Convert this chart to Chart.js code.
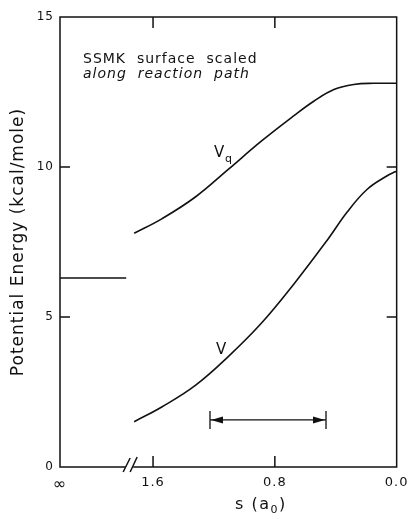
<!DOCTYPE html>
<html>
<head>
<meta charset="utf-8">
<script src="https://cdn.jsdelivr.net/npm/chart.js@4.4.1/dist/chart.umd.min.js"></script>
<style>
  html, body { margin: 0; padding: 0; background: #fff; }
  #wrap { width: 415px; height: 519px; }
</style>
</head>
<body>
<div id="wrap"><canvas id="energyChart" width="415" height="519"></canvas></div>
<script>
// reaction coordinate s (a0); the "infinity" column sits at the left edge
const sInf = 2.211;
const xTickValues = [sInf, 1.6, 0.8, 0];
const xTickLabels = ["\u221E", "1.6", "0.8", "0.0"];
const yTickValues = [0, 5, 10, 15];

// Vq curve
const vqS = [1.724, 1.540, 1.322, 1.106, 0.889, 0.672, 0.542, 0.412, 0.282, 0.150, 0.011, 0];
const vqE = [7.79, 8.28, 9.00, 9.92, 10.86, 11.72, 12.20, 12.58, 12.75, 12.79, 12.79, 12.79];

// V curve
const vS = [1.724, 1.540, 1.322, 1.106, 0.889, 0.672, 0.455, 0.325, 0.195, 0.065, 0.011, 0];
const vE = [1.51, 2.01, 2.72, 3.68, 4.79, 6.12, 7.57, 8.50, 9.25, 9.70, 9.84, 9.86];

// separated reactants (s = infinity)
const infS = [sInf, 1.776];
const infE = [6.3, 6.3];

// double arrow marking a range of s
const arrowS = [1.226, 0.464];
const arrowE = 1.57;

const FONT = "'DejaVu Sans', sans-serif";

function toPoints(xs, ys) {
  return xs.map((x, i) => ({ x: x, y: ys[i] }));
}

const extras = {
  id: "extras",
  beforeDraw(chart) {
    chart.ctx.letterSpacing = "1px";
  },
  afterDraw(chart) {
    const ctx = chart.ctx;
    const xs = chart.scales.x;
    const ys = chart.scales.y;
    const a = chart.chartArea;

    ctx.save();
    ctx.strokeStyle = "#111";
    ctx.fillStyle = "#111";
    ctx.lineWidth = 1.5;

    // frame
    ctx.strokeRect(a.left, a.top, a.right - a.left, a.bottom - a.top);

    // inward ticks
    ctx.beginPath();
    [1.6, 0.8].forEach((v) => {
      const px = xs.getPixelForValue(v);
      ctx.moveTo(px, a.top);
      ctx.lineTo(px, a.top + 11);
      ctx.moveTo(px, a.bottom);
      ctx.lineTo(px, a.bottom - 11);
    });
    [5, 10].forEach((v) => {
      const py = ys.getPixelForValue(v);
      ctx.moveTo(a.left, py);
      ctx.lineTo(a.left + 10, py);
      ctx.moveTo(a.right, py);
      ctx.lineTo(a.right - 10, py);
    });
    ctx.stroke();

    // axis break
    const bx = xs.getPixelForValue(1.77);
    ctx.fillStyle = "#fff";
    ctx.fillRect(bx - 2, a.bottom - 2, 8, 4);
    ctx.fillStyle = "#111";
    ctx.beginPath();
    ctx.moveTo(bx - 4, a.bottom + 5);
    ctx.lineTo(bx + 3, a.bottom - 9);
    ctx.moveTo(bx + 3, a.bottom + 5);
    ctx.lineTo(bx + 10, a.bottom - 10);
    ctx.stroke();

    // double arrow
    const x1 = xs.getPixelForValue(arrowS[0]);
    const x2 = xs.getPixelForValue(arrowS[1]);
    const ay = ys.getPixelForValue(arrowE);
    ctx.lineWidth = 1.3;
    ctx.beginPath();
    ctx.moveTo(x1, ay);
    ctx.lineTo(x2, ay);
    ctx.moveTo(x1, ay - 9);
    ctx.lineTo(x1, ay + 9);
    ctx.moveTo(x2, ay - 9);
    ctx.lineTo(x2, ay + 9);
    ctx.stroke();
    ctx.beginPath();
    ctx.moveTo(x1 + 1, ay);
    ctx.lineTo(x1 + 13, ay - 3.5);
    ctx.lineTo(x1 + 13, ay + 3.5);
    ctx.closePath();
    ctx.moveTo(x2 - 1, ay);
    ctx.lineTo(x2 - 13, ay - 3.5);
    ctx.lineTo(x2 - 13, ay + 3.5);
    ctx.closePath();
    ctx.fill();

    // curve labels
    ctx.letterSpacing = "0px";
    ctx.textAlign = "left";
    ctx.textBaseline = "alphabetic";
    ctx.font = "15px " + FONT;
    ctx.fillText("V", 214, 157);
    ctx.font = "11px " + FONT;
    ctx.fillText("q", 225, 162);
    ctx.font = "15px " + FONT;
    ctx.fillText("V", 216, 354);

    // note
    ctx.letterSpacing = "1px";
    ctx.font = "14px " + FONT;
    ctx.fillText("SSMK  surface  scaled", 83, 63);
    ctx.font = "italic 14px " + FONT;
    ctx.fillText("along  reaction  path", 83, 78);

    // x title with subscript
    ctx.font = "16px " + FONT;
    ctx.letterSpacing = "1.5px";
    let tx = 235;
    const ty = 509;
    ctx.fillText("s (a", tx, ty);
    tx += ctx.measureText("s (a").width;
    ctx.font = "11px " + FONT;
    ctx.fillText("0", tx, ty + 4);
    tx += ctx.measureText("0").width;
    ctx.font = "16px " + FONT;
    ctx.fillText(")", tx, ty);

    ctx.restore();
    ctx.letterSpacing = "0px";
  }
};

new Chart(document.getElementById("energyChart"), {
  type: "line",
  data: {
    datasets: [
      { label: "Vq", data: toPoints(vqS, vqE) },
      { label: "V", data: toPoints(vS, vE) },
      { label: "infinity", data: toPoints(infS, infE), tension: 0 }
    ]
  },
  options: {
    responsive: false,
    animation: false,
    devicePixelRatio: 1,
    layout: { padding: { left: 0, top: 17, right: 15, bottom: 0 } },
    elements: {
      line: { borderColor: "#111", borderWidth: 1.6, tension: 0.4, fill: false },
      point: { radius: 0 }
    },
    plugins: {
      legend: { display: false },
      tooltip: { enabled: false }
    },
    scales: {
      x: {
        type: "linear",
        reverse: true,
        min: 0,
        max: sInf,
        grid: { display: false, drawTicks: false },
        border: { display: false },
        afterBuildTicks: (scale) => {
          scale.ticks = xTickValues.map((v) => ({ value: v }));
        },
        afterFit: (scale) => { scale.height = 52; },
        ticks: {
          autoSkip: false,
          maxRotation: 0,
          padding: 8,
          color: "#111",
          font: (c) => ({ family: FONT, size: c.index === 0 ? 16 : 13 }),
          callback: (value) => {
            const i = xTickValues.indexOf(value);
            return i >= 0 ? xTickLabels[i] : "";
          }
        },
        title: { display: false }
      },
      y: {
        min: 0,
        max: 15,
        grid: { display: false, drawTicks: false },
        border: { display: false },
        afterBuildTicks: (scale) => {
          scale.ticks = yTickValues.map((v) => ({ value: v }));
        },
        afterFit: (scale) => { scale.width = 60; },
        ticks: {
          padding: 6,
          color: "#111",
          font: { family: FONT, size: 12 }
        },
        title: {
          display: true,
          text: "Potential Energy (kcal/mole)",
          color: "#111",
          font: { family: FONT, size: 17 },
          padding: { top: 8, bottom: 0 }
        }
      }
    }
  },
  plugins: [extras]
});
</script>
</body>
</html>
